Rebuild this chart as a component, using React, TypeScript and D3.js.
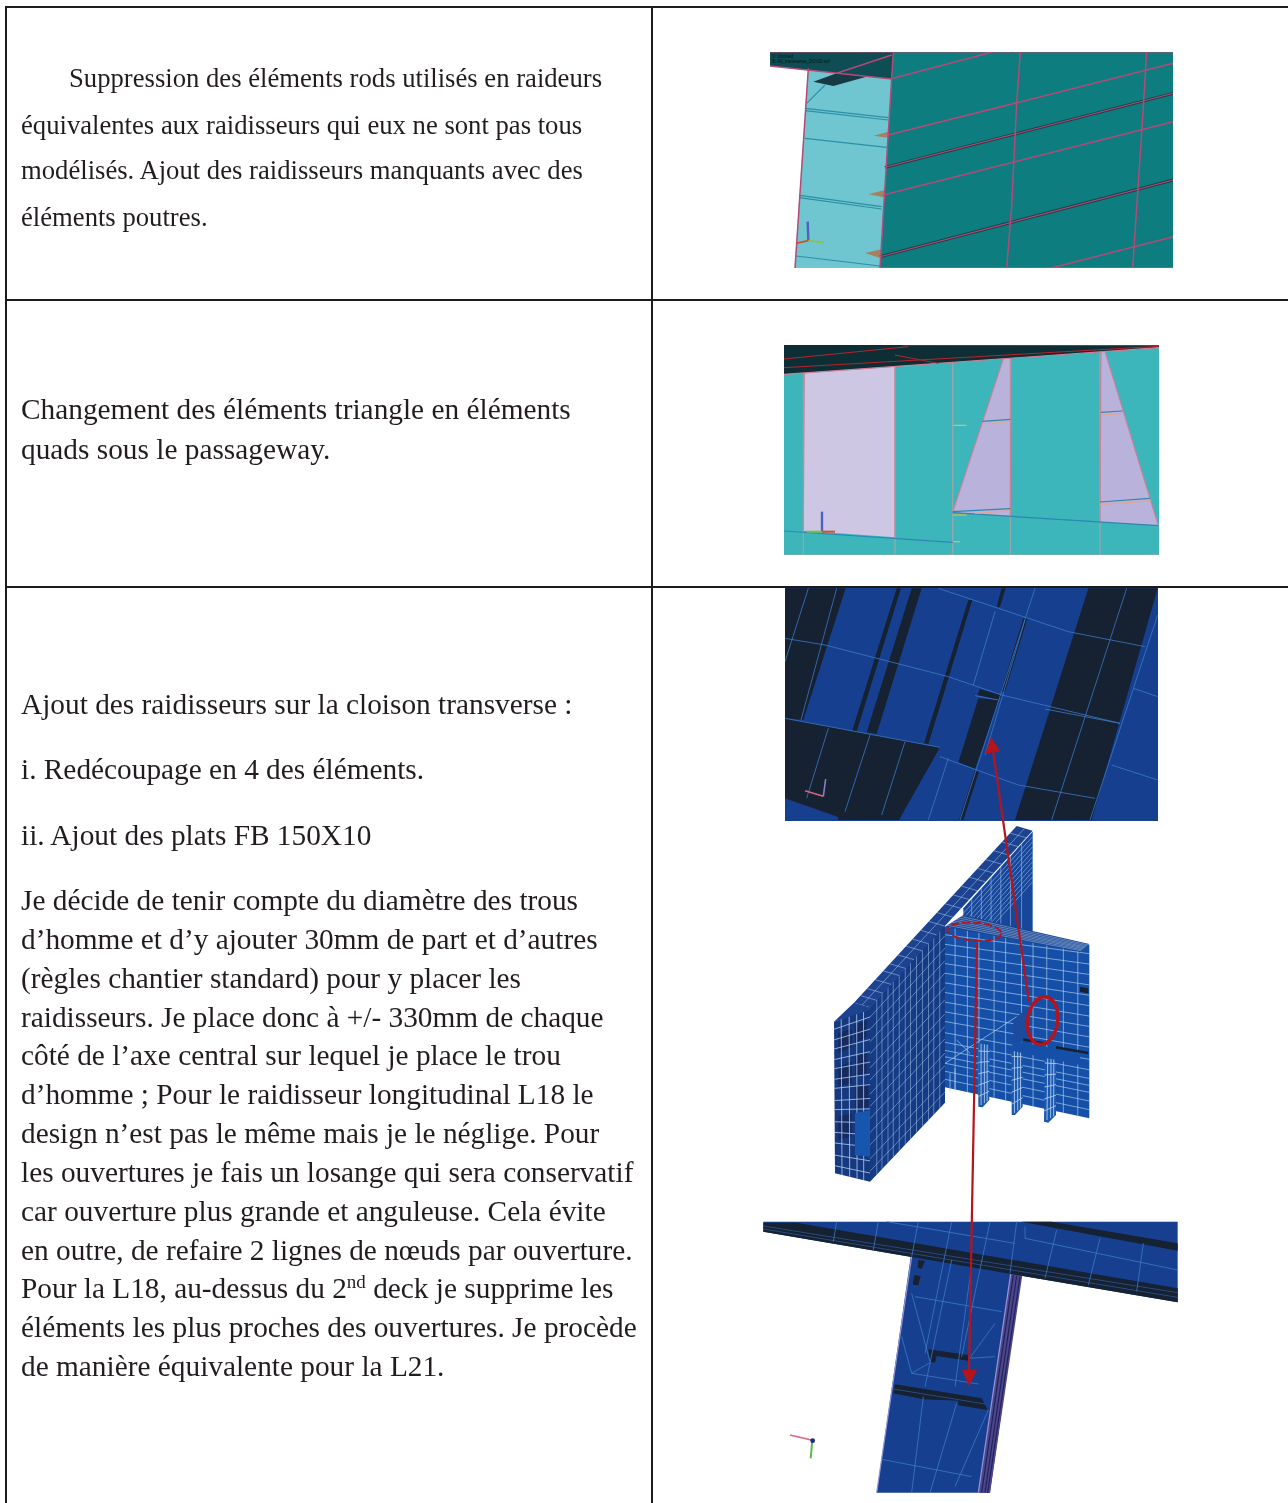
import React from "react";
import * as d3 from "d3";

type Pt = [number, number];

// table text, one array per cell
const row1Lines = [
  "Suppression des éléments rods utilisés en raideurs",
  "équivalentes aux raidisseurs qui eux ne sont pas tous",
  "modélisés. Ajout des raidisseurs manquants avec des",
  "éléments poutres.",
];
const row2Lines = [
  "Changement des éléments triangle en éléments",
  "quads sous le passageway.",
];
const row3Lines = [
  "Ajout des raidisseurs sur la cloison transverse :",
  "i. Redécoupage en 4 des éléments.",
  "ii. Ajout des plats FB 150X10",
  "Je décide de tenir compte du diamètre des trous",
  "d’homme et d’y ajouter 30mm de part et d’autres",
  "(règles chantier standard) pour y placer les",
  "raidisseurs. Je place donc à +/- 330mm de chaque",
  "côté de l’axe central sur lequel je place le trou",
  "d’homme ; Pour le raidisseur longitudinal L18 le",
  "design n’est pas le même mais je le néglige. Pour",
  "les ouvertures je fais un losange qui sera conservatif",
  "car ouverture plus grande et anguleuse. Cela évite",
  "en outre, de refaire 2 lignes de nœuds par ouverture.",
  "Pour la L18, au-dessus du 2|nd| deck je supprime les",
  "éléments les plus proches des ouvertures. Je procède",
  "de manière équivalente pour la L21.",
];
const row1Base = [87, 134, 179, 226];
const row2Base = [419, 459];
const row3Base = [714, 779, 845, 910, 949, 988, 1027, 1065, 1104, 1143, 1182, 1221, 1260, 1298, 1337, 1376];

const tableRows = [7, 300, 587];
const tableCols = [6, 652];

const viewLabels1 = ["V: Untitled", "B: All_transverse_DOUD.sol"];

const p1Main: Pt[] = [[400, 35], [1240, 35], [1240, 685], [360, 685]];
const p1Panel: Pt[] = [[145, 85], [400, 115], [360, 685], [105, 685]];
const p1Strip: Pt[] = [[30, 35], [400, 35], [395, 117], [30, 78]];
const p1Patch: Pt[] = [[160, 125], [230, 100], [330, 107], [220, 138]];
const p1Fins: Pt[][] = [
  [[340, 287], [385, 275], [385, 293]],
  [[325, 463], [375, 450], [372, 472]],
  [[315, 639], [365, 628], [360, 654]],
];
const p1Lines: Pt[][] = [
  [[400, 35], [360, 685]],
  [[781, 35], [770, 190], [755, 500], [740, 685]],
  [[1160, 35], [1145, 280], [1118, 685]],
  [[400, 115], [700, 35]],
  [[385, 285], [1240, 70]],
  [[370, 465], [1240, 245]],
  [[870, 685], [1240, 590]],
  [[30, 35], [1240, 35]],
  [[360, 683], [1240, 683]],
  [[30, 78], [395, 117]],
  [[230, 100], [395, 45]],
  [[145, 85], [105, 685]],
];
const p1Thick: Pt[][] = [
  [[375, 382], [1240, 160]],
  [[360, 650], [1240, 420]],
];
const p1PanelLines: Pt[][] = [
  [[135, 205], [385, 233]],
  [[135, 212], [385, 240]],
  [[135, 295], [380, 322]],
  [[118, 466], [365, 500]],
  [[118, 473], [365, 507]],
  [[108, 648], [360, 678]],
  [[140, 190], [195, 135]],
];

// picture 2
const p2Lilac: Pt[] = [[88, 115], [360, 95], [360, 607], [85, 587]];
const p2Wedges: Pt[][] = [
  [[685, 72], [708, 72], [706, 543], [533, 532]],
  [[978, 50], [990, 50], [1150, 572], [975, 561]],
];
const p2Strip: Pt[] = [[27, 30], [1152, 30], [1152, 38], [27, 118]];
const p2RedLines: Pt[][] = [
  [[27, 98], [1152, 34]],
  [[27, 72], [400, 35]],
  [[360, 60], [490, 85]],
  [[380, 30], [1152, 32]],
];
const p2Verticals: Pt[][] = [
  [[85, 115], [85, 660]],
  [[360, 95], [360, 660]],
  [[533, 84], [533, 660]],
  [[706, 72], [706, 660]],
  [[975, 50], [975, 660]],
  [[27, 660], [1152, 660]],
];
const p2Blue: Pt[][] = [
  [[27, 588], [533, 622]],
  [[533, 533], [1150, 572]],
  [[622, 259], [706, 253]],
  [[978, 232], [1042, 228]],
  [[975, 501], [1125, 490]],
  [[533, 530], [706, 521]],
];
const p2Salmon: Pt[][] = [
  [[622, 267], [706, 259]],
  [[978, 240], [1042, 235]],
  [[975, 509], [1128, 497]],
  [[600, 535], [706, 527]],
];
const p2Edges: Pt[][] = [
  [[27, 118], [1152, 38]],
  [[88, 115], [85, 587]],
  [[360, 95], [360, 607]],
  [[685, 72], [533, 532]],
  [[708, 72], [706, 543]],
  [[990, 50], [1150, 572]],
  [[978, 50], [975, 561]],
];
const p2Marks: Pt[][] = [
  [[535, 271], [575, 271]],
  [[535, 540], [575, 540]],
  [[535, 620], [555, 620]],
];

// picture 3
const p3Dark: Pt[][] = [
  [[30, 10], [212, 10], [85, 405], [30, 400]],
  [[365, 10], [378, 10], [245, 440], [232, 436]],
  [[410, 10], [440, 10], [305, 447], [275, 442]],
  [[580, 45], [592, 45], [460, 478], [447, 475]],
  [[745, 100], [757, 100], [690, 320], [678, 320]],
  [[610, 340], [672, 345], [600, 552], [550, 532]],
  [[615, 312], [682, 332], [670, 345], [608, 330]],
  [[940, 10], [1148, 10], [950, 705], [720, 705]],
  [[30, 400], [495, 487], [372, 705], [215, 705], [30, 640]],
  [[190, 680], [222, 680], [215, 705], [190, 705]],
  [[600, 555], [612, 560], [565, 705], [552, 705]],
  [[680, 10], [692, 10], [675, 65], [665, 65]],
];
const p3Mesh: Pt[][] = [
  [[100, 10], [30, 230]],
  [[185, 10], [78, 405]],
  [[150, 180], [520, 275], [680, 330], [1035, 415]],
  [[30, 160], [150, 180]],
  [[490, 10], [670, 70], [880, 140], [1110, 185]],
  [[30, 400], [495, 487]],
  [[495, 515], [730, 600], [960, 640]],
  [[1010, 540], [1148, 585]],
  [[1075, 310], [1148, 335]],
  [[1055, 10], [830, 705]],
  [[160, 430], [95, 640]],
  [[285, 450], [210, 680]],
  [[390, 470], [320, 690]],
  [[780, 10], [555, 705]],
  [[660, 80], [595, 300]],
  [[750, 105], [630, 510]],
  [[520, 520], [460, 705]],
  [[1148, 90], [945, 705]],
  [[600, 332], [670, 345]],
  [[810, 372], [1035, 415]],
];
const p3Triad: Pt[][] = [[[90, 617], [145, 634]], [[145, 634], [152, 582]]];

// picture 4, mesh panels: corners in order TL, TR, BR, BL
const p4Back: Pt[] = [[430, 265], [638, 35], [638, 335], [430, 565]];
const p4Flange: Pt[] = [[102, 548], [590, 18], [638, 32], [150, 562]];
const p4FlangeEnd: Pt[] = [[42, 605], [102, 548], [150, 562], [150, 570]];
const p4Wall: Pt[] = [[150, 560], [375, 315], [375, 848], [150, 1085]];
const p4Recess: Pt[] = [[42, 605], [150, 565], [150, 1085], [45, 1060]];
const p4Cross: Pt[] = [[375, 320], [808, 375], [808, 895], [375, 802]];
const p4CrossTop: Pt[] = [[375, 320], [430, 285], [808, 372], [780, 395]];
const p4Band: Pt[] = [[578, 662], [780, 700], [780, 735], [575, 692]];
const p4Inset: Pt[] = [[105, 880], [150, 870], [150, 1010], [105, 1005]];
const p4Stiffeners: Pt[][] = [
  [[475, 670], [508, 675], [508, 840], [488, 862], [475, 860]],
  [[575, 685], [608, 690], [608, 860], [585, 885], [575, 885]],
  [[675, 705], [708, 710], [708, 885], [685, 908], [672, 905]],
];
const p4Cuts: Pt[][] = [
  [[580, 600], [625, 560], [625, 670], [580, 660]],
];
const p4Darks: Pt[][] = [
  [[610, 655], [680, 668], [680, 675], [610, 662]],
  [[708, 678], [805, 695], [805, 703], [708, 686]],
  [[780, 500], [805, 505], [805, 520], [780, 515]],
];
const p4RecessCells: Pt[][] = [
  [[55, 640], [95, 625], [95, 680], [55, 700]],
  [[105, 615], [140, 600], [140, 650], [105, 670]],
  [[55, 740], [95, 725], [95, 790], [55, 800]],
  [[105, 710], [140, 695], [140, 760], [105, 775]],
  [[105, 800], [145, 790], [145, 860], [105, 870]],
  [[55, 890], [95, 880], [95, 950], [55, 960]],
];
const p4Diagonals: Pt[][] = [
  [[375, 730], [590, 590]],
  [[410, 660], [450, 700]],
  [[405, 745], [405, 810]],
  [[390, 760], [390, 815]],
];
const wallU = [0.09, 0.16, 0.24, 0.31, 0.39, 0.47, 0.54, 0.62, 0.7, 0.78, 0.85, 0.93];
const wallV = [0.06, 0.13, 0.2, 0.27, 0.35, 0.42, 0.5, 0.57, 0.64, 0.72, 0.79, 0.87, 0.94];
const flangeU = [0.04, 0.08, 0.13, 0.18, 0.22, 0.27, 0.32, 0.36, 0.41, 0.46, 0.51, 0.56, 0.61, 0.66, 0.71, 0.76, 0.81, 0.86, 0.91, 0.96];
const recessU = [0.2, 0.42, 0.63, 0.82];
const recessV = [0.05, 0.12, 0.18, 0.25, 0.31, 0.38, 0.44, 0.52, 0.58, 0.66, 0.73, 0.8, 0.88, 0.95];
const crossU = [0.07, 0.155, 0.235, 0.34, 0.42, 0.53, 0.61, 0.705, 0.82, 0.92];
const crossV = [0.05, 0.11, 0.17, 0.23, 0.29, 0.35, 0.41, 0.47, 0.53, 0.59, 0.66, 0.72, 0.77, 0.81, 0.85, 0.9, 0.95];
const topU = [0.12, 0.25, 0.38, 0.5, 0.62, 0.75, 0.88];
const backU = [0.12, 0.26, 0.4, 0.54, 0.68, 0.84];
const backV = [0.05, 0.1, 0.15, 0.2, 0.25, 0.3, 0.35, 0.4, 0.45, 0.5];
const stiffU = [0.25, 0.55, 0.8];
const stiffV = [0.12, 0.3, 0.48, 0.66, 0.84];

// picture 5
const p5Beam: Pt[] = [[25, 35], [1268, 35], [1268, 277], [25, 65]];
const p5Web: Pt[] = [[470, 120], [800, 180], [705, 848], [365, 848]];
const p5Side: Pt[] = [[768, 185], [802, 195], [705, 848], [670, 848]];
const p5Dark: Pt[][] = [
  [[25, 38], [125, 38], [1268, 235], [1268, 277], [25, 65]],
  [[800, 35], [890, 35], [1268, 100], [1268, 122]],
  [[490, 150], [510, 153], [500, 176], [488, 174]],
  [[478, 195], [497, 198], [490, 226], [473, 224]],
  [[520, 418], [640, 435], [640, 452], [545, 438], [540, 458], [525, 455]],
  [[420, 523], [680, 565], [698, 600], [610, 586], [610, 572], [505, 568], [415, 550]],
];
const p5Stripes: Pt[][] = [
  [[25, 48], [1268, 248]],
  [[25, 57], [1268, 262]],
  [[415, 537], [690, 582]],
];
const p5SideLines: Pt[][] = [
  [[775, 195], [680, 848]],
  [[785, 198], [690, 848]],
  [[795, 200], [698, 848]],
];
const p5Edges: Pt[][] = [
  [[470, 140], [365, 848]],
  [[768, 185], [670, 848]],
];
const p5Mesh: Pt[][] = [
  [[245, 35], [235, 95]],
  [[370, 35], [355, 120]],
  [[490, 35], [470, 140]],
  [[590, 35], [510, 430]],
  [[705, 35], [620, 440]],
  [[785, 35], [765, 190]],
  [[905, 60], [870, 205]],
  [[1035, 85], [1000, 225]],
  [[1165, 100], [1145, 245]],
  [[810, 50], [810, 85], [1268, 180]],
  [[395, 35], [780, 100]],
  [[480, 260], [740, 305]],
  [[470, 250], [525, 455]],
  [[720, 340], [640, 450]],
  [[440, 380], [470, 490], [525, 458]],
  [[470, 490], [670, 522]],
  [[640, 445], [720, 440]],
  [[505, 560], [470, 848]],
  [[605, 580], [525, 848]],
  [[700, 600], [600, 830]],
  [[380, 748], [650, 800]],
  [[590, 150], [510, 530]],
  [[650, 165], [600, 530]],
];
const p5Triad: Pt[][] = [[[105, 675], [172, 691]], [[172, 691], [167, 745]]];

// red annotation arrows, in page pixels
const arrowUp: Pt[] = [[1029, 1002], [993, 750]];
const arrowUpHead: Pt[] = [[991, 737], [985, 754], [1000, 751]];
const arrowDown: Pt[] = [[977, 943], [969, 1372]];
const arrowDownHead: Pt[] = [[962, 1370], [977, 1370], [969, 1386]];

const colors = {
  ink: "#231f20",
  rule: "#1c1c1c",
  teal: "#0c7d7f",
  cyan: "#6fc6d0",
  strip: "#0d4d53",
  pink: "#b54a78",
  fin: "#a5815f",
  aqua: "#3cb6bb",
  lilac: "#cdc7e4",
  wedge: "#b9b2da",
  grey: "#9aa7ab",
  navy: "#142031",
  blue: "#14408f",
  mesh: "#3d7ac6",
  wire: "#aecbec",
  wall: "#17479a",
  side: "#4d4690",
  red: "#b5141c",
};

const crop = (x0: number, y0: number) => {
  const x = d3.scaleLinear().domain([0, 3]).range([x0, x0 + 1]);
  const y = d3.scaleLinear().domain([0, 3]).range([y0, y0 + 1]);
  const path = d3.line<Pt>().x((d) => x(d[0])).y((d) => y(d[1]));
  return { x, y, path };
};

const pagePath = d3.line<Pt>();
const closed = (s: string | null) => `${s}Z`;

// bilinear mesh lines over a four corner panel
const meshPaths = (q: Pt[], us: number[], vs: number[]): Pt[][] => {
  const at = (u: number, v: number): Pt => {
    const tx = q[0][0] + (q[1][0] - q[0][0]) * u;
    const ty = q[0][1] + (q[1][1] - q[0][1]) * u;
    const bx = q[3][0] + (q[2][0] - q[3][0]) * u;
    const by = q[3][1] + (q[2][1] - q[3][1]) * u;
    return [tx + (bx - tx) * v, ty + (by - ty) * v];
  };
  return [
    ...us.map((u) => [at(u, 0), at(u, 1)] as Pt[]),
    ...vs.map((v) => [at(0, v), at(1, v)] as Pt[]),
  ];
};

const font = "'Liberation Serif', 'Times New Roman', serif";

function TextBlock({ lines, base, size, indent }: { lines: string[]; base: number[]; size: number; indent?: number }) {
  return (
    <g fontFamily={font} fontSize={size} fill={colors.ink} filter="url(#softText)">
      {lines.map((l, i) => {
        const parts = l.split("|");
        return (
          <text key={i} x={i === 0 && indent ? indent : 21} y={base[i]}>
            {parts.length === 1 ? (
              l
            ) : (
              <>
                {parts[0]}
                <tspan dy={-10} fontSize={19}>{parts[1]}</tspan>
                <tspan dy={10}>{parts[2]}</tspan>
              </>
            )}
          </text>
        );
      })}
    </g>
  );
}

export default function App() {
  const c1 = crop(760, 40);
  const c2 = crop(775, 335);
  const c3 = crop(775, 585);
  const c4 = crop(820, 820);
  const c5 = crop(755, 1210);
  const strokes = (c: typeof c1, list: Pt[][], stroke: string, w: number, opacity = 1) =>
    list.map((d, i) => (
      <path key={i} d={c.path(d) ?? ""} fill="none" stroke={stroke} strokeWidth={w} strokeOpacity={opacity} />
    ));
  const fills = (c: typeof c1, list: Pt[][], fill: string) =>
    list.map((d, i) => <path key={i} d={closed(c.path(d))} fill={fill} />);

  return (
    <svg
      width={1288}
      height={1503}
      viewBox="0 0 1288 1503"
      style={{ position: "absolute", left: 0, top: 0, background: "#fff" }}
    >
      <defs>
        <filter id="soft" x="-2%" y="-2%" width="104%" height="104%">
          <feGaussianBlur stdDeviation="0.45" />
        </filter>
        <filter id="softText" x="-2%" y="-2%" width="104%" height="104%">
          <feGaussianBlur stdDeviation="0.3" />
        </filter>
        <clipPath id="clip1"><rect x={770} y={52} width={403} height={216} /></clipPath>
        <clipPath id="clip2"><rect x={784} y={345} width={375} height={210} /></clipPath>
        <clipPath id="clip3"><rect x={785} y={588} width={373} height={233} /></clipPath>
        <clipPath id="clip5"><rect x={763} y={1221} width={415} height={272} /></clipPath>
      </defs>

      {/* table rules */}
      <g stroke={colors.rule} strokeWidth={2}>
        {tableRows.map((y) => <line key={y} x1={tableCols[0] - 1} x2={1288} y1={y} y2={y} />)}
        {tableCols.map((x) => <line key={x} x1={x} x2={x} y1={tableRows[0] - 1} y2={1503} />)}
      </g>

      <TextBlock lines={row1Lines} base={row1Base} size={26.67} indent={69} />
      <TextBlock lines={row2Lines} base={row2Base} size={29.33} />
      <TextBlock lines={row3Lines} base={row3Base} size={29.33} />

      {/* picture 1 */}
      <g clipPath="url(#clip1)">
        <g filter="url(#soft)">
          <path d={closed(c1.path(p1Panel))} fill={colors.cyan} />
          <path d={closed(c1.path(p1Main))} fill={colors.teal} />
          <path d={closed(c1.path(p1Strip))} fill={colors.strip} />
          <path d={closed(c1.path(p1Patch))} fill="#153a44" />
          {fills(c1, p1Fins, colors.fin)}
          {strokes(c1, p1PanelLines, "#2d8fa4", 1.1)}
          {strokes(c1, p1Thick, "#1f3f47", 3)}
          {strokes(c1, p1Thick, colors.pink, 1.1)}
          {strokes(c1, p1Lines, colors.pink, 1.5)}
          {strokes(c1, [[[145, 602], [143, 545]]], "#4f63b8", 2.4)}
          {strokes(c1, [[[145, 602], [190, 608]]], "#8fc04a", 1.8)}
          {strokes(c1, [[[145, 602], [108, 610]]], "#d0502c", 1.8)}
        </g>
        {viewLabels1.map((t, i) => (
          <text key={t} x={c1.x(36)} y={c1.y(53 + i * 16)} fontFamily="'Liberation Sans', sans-serif" fontSize={4.6} fill="#04181a">
            {t}
          </text>
        ))}
      </g>

      {/* picture 2 */}
      <g clipPath="url(#clip2)">
        <g filter="url(#soft)">
          <rect x={784} y={345} width={375} height={210} fill={colors.aqua} />
          <path d={closed(c2.path(p2Lilac))} fill={colors.lilac} />
          {fills(c2, p2Wedges, colors.wedge)}
          <path d={closed(c2.path(p2Strip))} fill="#0d2f34" />
          {strokes(c2, p2Verticals, colors.grey, 1.2)}
          {strokes(c2, p2Edges, "#d37d98", 1.1)}
          {strokes(c2, p2Blue, "#2f86b4", 1.2)}
          {strokes(c2, p2Salmon, "#e3a58f", 1.2)}
          {strokes(c2, p2RedLines, "#b3262e", 1)}
          {strokes(c2, p2Marks, "#d9c24a", 1.2)}
          {strokes(c2, [[[141, 590], [141, 530]]], "#4f63b8", 2.4)}
          {strokes(c2, [[[95, 590], [141, 590]]], "#72c24a", 2)}
          {strokes(c2, [[[141, 590], [180, 590]]], "#d0502c", 2)}
        </g>
      </g>

      {/* picture 3 */}
      <g clipPath="url(#clip3)">
        <g filter="url(#soft)">
          <rect x={785} y={588} width={373} height={233} fill={colors.blue} />
          {fills(c3, p3Dark, colors.navy)}
          {strokes(c3, p3Mesh, colors.mesh, 0.8)}
          {strokes(c3, [p3Triad[0]], "#d9657f", 1.6)}
          {strokes(c3, [p3Triad[1]], "#8c7fc0", 1.6)}
        </g>
      </g>

      {/* picture 4 */}
      <g filter="url(#soft)">
        <path d={closed(c4.path(p4Back))} fill={colors.wall} />
        {strokes(c4, meshPaths(p4Back, backU, backV), colors.wire, 0.7, 0.75)}
        <path d={closed(c4.path(p4Recess))} fill="#15397f" />
        {fills(c4, p4RecessCells, "#122a60")}
        {strokes(c4, meshPaths(p4Recess, recessU, recessV), colors.wire, 0.9, 0.9)}
        <path d={closed(c4.path(p4Inset))} fill="#1656ad" />
        <path d={closed(c4.path(p4Wall))} fill="#133a85" />
        {strokes(c4, meshPaths(p4Wall, wallU, wallV), colors.wire, 0.7, 0.7)}
        <path d={closed(c4.path(p4FlangeEnd))} fill="#1a4390" />
        <path d={closed(c4.path(p4Flange))} fill="#1a4390" />
        {strokes(c4, meshPaths(p4Flange, flangeU, [0.5]), colors.wire, 0.7, 0.75)}
        <path d={closed(c4.path(p4Cross))} fill="#1450a8" />
        {strokes(c4, meshPaths(p4Cross, crossU, crossV), colors.wire, 0.8, 0.85)}
        <path d={closed(c4.path(p4CrossTop))} fill="#1a4390" />
        {strokes(c4, meshPaths(p4CrossTop, topU, []), colors.wire, 0.7, 0.7)}
        {strokes(c4, p4Diagonals, colors.wire, 0.9, 0.8)}
        {fills(c4, p4Cuts, "#1a4b9e")}
        {fills(c4, p4Stiffeners, "#1a58b0")}
        {p4Stiffeners.map((s, i) => (
          <g key={i}>
            {strokes(c4, meshPaths([s[0], s[1], s[2], s[4]], stiffU, stiffV), colors.wire, 0.9)}
          </g>
        ))}
        <path d={closed(c4.path(p4Band))} fill="#1450a8" />
        {fills(c4, p4Darks, colors.navy)}
      </g>
      <ellipse
        cx={c4.x(463)} cy={c4.y(335)} rx={27} ry={9}
        transform={`rotate(4 ${c4.x(463)} ${c4.y(335)})`}
        fill="none" stroke={colors.red} strokeWidth={2} strokeDasharray="8 3"
      />
      <ellipse
        cx={c4.x(668)} cy={c4.y(602)} rx={15} ry={24}
        transform={`rotate(8 ${c4.x(668)} ${c4.y(602)})`}
        fill="none" stroke={colors.red} strokeWidth={3.5}
      />

      {/* picture 5 */}
      <g clipPath="url(#clip5)">
        <g filter="url(#soft)">
          <path d={closed(c5.path(p5Web))} fill={colors.blue} />
          <path d={closed(c5.path(p5Side))} fill={colors.side} />
          {strokes(c5, p5SideLines, "#232355", 1.2)}
          {strokes(c5, p5Edges, "#9a94d6", 1.2)}
          <path d={closed(c5.path(p5Beam))} fill={colors.blue} />
          {fills(c5, p5Dark, colors.navy)}
          {strokes(c5, p5Stripes, "#31548f", 0.8)}
          {strokes(c5, p5Mesh, colors.mesh, 0.8)}
          {strokes(c5, [p5Triad[0]], "#d9657f", 1.6)}
          {strokes(c5, [p5Triad[1]], "#5dbb4a", 2)}
          <circle cx={c5.x(173)} cy={c5.y(692)} r={2.4} fill="#1d2d80" />
        </g>
      </g>

      {/* arrows */}
      <g fill={colors.red}>
        <path d={pagePath(arrowUp) ?? ""} fill="none" stroke={colors.red} strokeWidth={2.2} />
        <path d={closed(pagePath(arrowUpHead))} />
        <path d={pagePath(arrowDown) ?? ""} fill="none" stroke={colors.red} strokeWidth={2.2} />
        <path d={closed(pagePath(arrowDownHead))} />
      </g>
    </svg>
  );
}
